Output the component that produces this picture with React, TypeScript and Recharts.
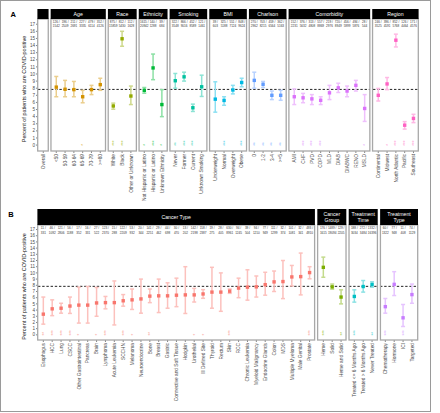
import { ComposedChart, Line, ErrorBar, XAxis, YAxis, ReferenceLine } from 'recharts'

const FONT = '"Liberation Sans", Arial, Helvetica, sans-serif'

// overall positive rate, the dashed line in every panel
const REF_RATE = 7.83
const Y_TICKS = [0, 1, 2, 3, 4, 5, 6, 7, 8, 9, 10, 11, 12, 13, 14, 15, 16, 17]
const Y_TITLE = 'Percent of patients who are COVID-positive'

// ---------- panel A ----------
const OVERALL_CATS = ['Overall']
const OVERALL_PCT = [7.83]
const OVERALL_LO = [7.5]
const OVERALL_HI = [8.17]
const OVERALL_POS = [1794]
const OVERALL_TOT = [22914]
const OVERALL_STARS = [0]

const AGE_CATS = ['<50', '50-59', '60-64', '65-69', '70-79', '>=80']
const AGE_PCT = [8.15, 7.85, 7.8, 6.8, 7.8, 8.5]
const AGE_LO = [6.8, 6.8, 6.8, 5.95, 7.1, 7.7]
const AGE_HI = [9.65, 9.1, 8.95, 7.7, 8.4, 9.4]
const AGE_POS = [126, 196, 211, 227, 479, 352]
const AGE_TOT = [1542, 2509, 2691, 3335, 6114, 4126]
const AGE_STARS = [0, 0, 0, 1, 0, 0]

const RACE_CATS = ['White', 'Black', 'Other or Unknown']
const RACE_PCT = [5.5, 14.95, 6.9]
const RACE_LO = [5.05, 13.9, 5.7]
const RACE_HI = [5.9, 16.0, 8.3]
const RACE_POS = [875, 812, 112]
const RACE_TOT = [15859, 5430, 1628]
const RACE_STARS = [3, 3, 0]

const ETH_CATS = ['Not Hispanic or Latino', 'Hispanic or Latino', 'Unknown Ethnicity']
const ETH_PCT = [7.7, 10.85, 5.7]
const ETH_LO = [7.3, 9.2, 4.0]
const ETH_HI = [8.1, 12.8, 7.8]
const ETH_POS = [1615, 140, 39]
const ETH_TOT = [20942, 1288, 684]
const ETH_STARS = [1, 3, 1]

const SMOKE_CATS = ['Never', 'Former', 'Current', 'Unknown Smoking']
const SMOKE_PCT = [9.05, 9.6, 5.25, 8.2]
const SMOKE_LO = [8.0, 9.0, 4.73, 6.84]
const SMOKE_HI = [10.07, 10.25, 5.76, 9.83]
const SMOKE_POS = [322, 866, 452, 121]
const SMOKE_TOT = [3548, 9016, 8589, 1461]
const SMOKE_STARS = [2, 3, 3, 0]

const BMI_CATS = ['Underweight', 'Normal', 'Overweight', 'Obese']
const BMI_PCT = [6.46, 6.28, 7.75, 8.8]
const BMI_LO = [4.63, 5.6, 7.2, 8.2]
const BMI_HI = [8.9, 6.8, 8.4, 9.4]
const BMI_POS = [39, 325, 551, 848]
const BMI_TOT = [603, 5188, 7124, 9624]
const BMI_STARS = [0, 3, 0, 3]

const CHARLSON_CATS = ['0', '1-2', '3-4', '>=5']
const CHARLSON_PCT = [9.1, 8.55, 7.0, 7.0]
const CHARLSON_LO = [8.0, 8.1, 6.4, 6.3]
const CHARLSON_HI = [10.25, 8.95, 7.6, 7.7]
const CHARLSON_POS = [270, 703, 459, 362]
const CHARLSON_TOT = [2962, 8215, 6564, 5163]
const CHARLSON_STARS = [2, 2, 2, 2]

const COMORB_CATS = ['AMI', 'CHF', 'PVD', 'COPD', 'MLD', 'DIAB', 'DIABWC', 'RENO', 'MSLD']
const COMORB_PCT = [6.8, 6.65, 6.5, 6.3, 7.35, 8.05, 7.6, 8.4, 5.15]
const COMORB_LO = [5.7, 5.96, 5.7, 5.7, 6.4, 7.4, 6.8, 7.6, 3.33]
const COMORB_HI = [7.9, 7.27, 7.1, 6.8, 8.4, 8.7, 8.3, 9.1, 7.1]
const COMORB_POS = [152, 376, 313, 557, 219, 720, 456, 494, 28]
const COMORB_TOT = [2231, 5632, 4808, 8869, 2976, 8949, 5999, 5876, 544]
const COMORB_STARS = [0, 3, 3, 3, 0, 0, 0, 0, 1]

const REGION_CATS = ['Continental', 'Midwest', 'North Atlantic', 'Pacific', 'Southeast']
const REGION_PCT = [7.0, 8.6, 14.75, 2.8, 3.75]
const REGION_LO = [6.2, 7.8, 13.8, 2.25, 3.16]
const REGION_HI = [7.97, 9.5, 15.6, 3.3, 4.33]
const REGION_POS = [246, 396, 852, 126, 171]
const REGION_TOT = [3525, 4591, 5768, 4464, 4576]
const REGION_STARS = [0, 1, 3, 3, 3]

// ---------- panel B ----------
const CTYPE_CATS = [
  'Esophagus', 'HCC', 'Lung', 'CSCC', 'Other Gastrointestinal', 'Pancreas', 'Brain', 'Lymphoma',
  'Acute Leukemia', 'SCCHN', 'Melanoma', 'Neuroendocrine', 'Bone', 'Breast', 'Gastric',
  'Connective and Soft Tissue', 'Hodgkin', 'Urothelial', 'Ill Defined Site', 'Thyroid', 'Rectum',
  'Skin', 'RCC', 'Chronic Leukemia', 'Myeloid Malignancy', 'Endocrine Glands', 'Colon', 'MDS',
  'Multiple Myeloma', 'Male Genital', 'Prostate',
]
const CTYPE_PCT = [3.34, 4.2, 4.3, 4.65, 4.8, 4.8, 5.15, 5.2, 5.2, 5.5, 5.65, 5.8, 6.25, 6.3, 6.3, 6.4, 6.45, 6.45, 6.6, 6.9, 6.9, 7.05, 7.55, 7.7, 7.75, 8.1, 8.55, 8.6, 9.35, 9.4, 10.05]
const CTYPE_LO = [1.73, 3.1, 3.5, 3.46, 1.9, 1.9, 3.0, 4.2, 1.6, 4.63, 4.1, 3.5, 5.2, 3.6, 4.3, 4.55, 3.45, 5.3, 5.9, 4.3, 3.8, 6.7, 6.0, 5.6, 6.1, 6.4, 7.0, 5.85, 7.9, 6.45, 9.05]
const CTYPE_HI = [6.1, 5.65, 5.1, 6.1, 7.7, 7.8, 7.65, 6.2, 8.7, 6.5, 7.4, 9.0, 7.4, 9.0, 8.4, 9.15, 11.0, 7.5, 7.3, 10.9, 10.0, 7.4, 9.15, 10.5, 9.5, 10.1, 10.3, 12.0, 11.2, 13.2, 11.0]
const CTYPE_POS = [11, 46, 121, 56, 17, 16, 27, 123, 15, 122, 53, 20, 141, 29, 44, 30, 13, 142, 158, 19, 28, 630, 94, 39, 94, 77, 111, 32, 101, 32, 493]
const CTYPE_TOT = [331, 1092, 2806, 1188, 352, 331, 522, 2370, 288, 2209, 932, 344, 2251, 462, 698, 470, 202, 2198, 2387, 275, 405, 8961, 1245, 504, 1210, 949, 1299, 374, 1081, 341, 4910]
const CTYPE_STARS = [2, 3, 3, 3, 1, 0, 1, 3, 0, 3, 1, 0, 2, 0, 0, 0, 0, 1, 1, 0, 0, 3, 0, 0, 0, 0, 0, 0, 0, 0, 3]

const CGROUP_CATS = ['Heme', 'Solid', 'Heme and Solid']
const CGROUP_PCT = [10.9, 7.75, 6.1]
const CGROUP_LO = [9.3, 7.38, 5.0]
const CGROUP_HI = [12.55, 8.2, 7.27]
const CGROUP_POS = [176, 1489, 129]
const CGROUP_TOT = [1615, 19094, 2205]
const CGROUP_STARS = [3, 0, 2]

const TTIME_CATS = ['Treated <= 6 Months Ago', 'Treated > 6 Months Ago', 'Never Treated']
const TTIME_PCT = [6.2, 7.8, 8.13]
const TTIME_LO = [5.28, 6.9, 7.7]
const TTIME_HI = [7.27, 8.77, 8.56]
const TTIME_POS = [188, 272, 1332]
const TTIME_TOT = [3034, 3484, 16396]
const TTIME_STARS = [3, 0, 2]

const TTYPE_CATS = ['Chemotherapy', 'Hormone', 'ICI', 'Targeted']
const TTYPE_PCT = [4.55, 8.15, 2.75, 6.5]
const TTYPE_LO = [3.5, 6.35, 1.35, 5.1]
const TTYPE_HI = [5.87, 10.2, 4.9, 8.2]
const TTYPE_POS = [60, 77, 11, 74]
const TTYPE_TOT = [1322, 948, 408, 1129]
const TTYPE_STARS = [3, 0, 3, 0]

interface PanelSpec {
  title: string[]
  color: string
  cats: string[]
  pct: number[]
  lo: number[]
  hi: number[]
  pos: number[]
  tot: number[]
  stars: number[]
}

const ROW_A: PanelSpec[] = [
  { title: [], color: '#F8766D', cats: OVERALL_CATS, pct: OVERALL_PCT, lo: OVERALL_LO, hi: OVERALL_HI, pos: OVERALL_POS, tot: OVERALL_TOT, stars: OVERALL_STARS },
  { title: ['Age'], color: '#D39200', cats: AGE_CATS, pct: AGE_PCT, lo: AGE_LO, hi: AGE_HI, pos: AGE_POS, tot: AGE_TOT, stars: AGE_STARS },
  { title: ['Race'], color: '#93AA00', cats: RACE_CATS, pct: RACE_PCT, lo: RACE_LO, hi: RACE_HI, pos: RACE_POS, tot: RACE_TOT, stars: RACE_STARS },
  { title: ['Ethnicity'], color: '#00BA38', cats: ETH_CATS, pct: ETH_PCT, lo: ETH_LO, hi: ETH_HI, pos: ETH_POS, tot: ETH_TOT, stars: ETH_STARS },
  { title: ['Smoking'], color: '#00C19F', cats: SMOKE_CATS, pct: SMOKE_PCT, lo: SMOKE_LO, hi: SMOKE_HI, pos: SMOKE_POS, tot: SMOKE_TOT, stars: SMOKE_STARS },
  { title: ['BMI'], color: '#00B9E3', cats: BMI_CATS, pct: BMI_PCT, lo: BMI_LO, hi: BMI_HI, pos: BMI_POS, tot: BMI_TOT, stars: BMI_STARS },
  { title: ['Charlson'], color: '#619CFF', cats: CHARLSON_CATS, pct: CHARLSON_PCT, lo: CHARLSON_LO, hi: CHARLSON_HI, pos: CHARLSON_POS, tot: CHARLSON_TOT, stars: CHARLSON_STARS },
  { title: ['Comorbidity'], color: '#DB72FB', cats: COMORB_CATS, pct: COMORB_PCT, lo: COMORB_LO, hi: COMORB_HI, pos: COMORB_POS, tot: COMORB_TOT, stars: COMORB_STARS },
  { title: ['Region'], color: '#FF61C3', cats: REGION_CATS, pct: REGION_PCT, lo: REGION_LO, hi: REGION_HI, pos: REGION_POS, tot: REGION_TOT, stars: REGION_STARS },
]

const ROW_B: PanelSpec[] = [
  { title: ['Cancer Type'], color: '#F8766D', cats: CTYPE_CATS, pct: CTYPE_PCT, lo: CTYPE_LO, hi: CTYPE_HI, pos: CTYPE_POS, tot: CTYPE_TOT, stars: CTYPE_STARS },
  { title: ['Cancer', 'Group'], color: '#7CAE00', cats: CGROUP_CATS, pct: CGROUP_PCT, lo: CGROUP_LO, hi: CGROUP_HI, pos: CGROUP_POS, tot: CGROUP_TOT, stars: CGROUP_STARS },
  { title: ['Treatment', 'Time'], color: '#00BFC4', cats: TTIME_CATS, pct: TTIME_PCT, lo: TTIME_LO, hi: TTIME_HI, pos: TTIME_POS, tot: TTIME_TOT, stars: TTIME_STARS },
  { title: ['Treatment', 'Type'], color: '#C77CFF', cats: TTYPE_CATS, pct: TTYPE_PCT, lo: TTYPE_LO, hi: TTYPE_HI, pos: TTYPE_POS, tot: TTYPE_TOT, stars: TTYPE_STARS },
]

interface RowLayout {
  tag: string
  tagX: number
  tagY: number
  left: number
  right: number
  gap: number
  stripTop: number
  stripH: number
  plotTop: number
  plotBottom: number
  labelH: number
  clipH: number
  countY: [number, number]
}

const LAYOUT_A: RowLayout = {
  tag: 'A', tagX: 10.5, tagY: 16.5, left: 37.7, right: 418.3, gap: 2.7,
  stripTop: 9, stripH: 10, plotTop: 19, plotBottom: 151, labelH: 60, clipH: 204, countY: [2.6, 7.4],
}
const LAYOUT_B: RowLayout = {
  tag: 'B', tagX: 8.3, tagY: 217, left: 37.7, right: 417.7, gap: 3,
  stripTop: 209, stripH: 16, plotTop: 225, plotBottom: 340, labelH: 68, clipH: 409, countY: [3.2, 7.9],
}

const Y_DOMAIN: [number, number] = [-0.83, 17.73]
const Y_AXIS_W = 16

function lighten(hex: string, k: number) {
  const n = parseInt(hex.slice(1), 16)
  const ch = [(n >> 16) & 255, (n >> 8) & 255, n & 255].map((c) => Math.round(c + (255 - c) * k))
  return `rgb(${ch[0]},${ch[1]},${ch[2]})`
}

function layoutRow(panels: PanelSpec[], lay: RowLayout) {
  const units = panels.reduce((a, p) => a + p.cats.length + 0.2, 0)
  const s = (lay.right - lay.left - lay.gap * (panels.length - 1)) / units
  let x = lay.left
  return panels.map((p) => {
    const w = (p.cats.length + 0.2) * s
    const out = { x, w, s }
    x += w + lay.gap
    return out
  })
}

function Panel({ spec, x, w, s, lay, first }: { spec: PanelSpec; x: number; w: number; s: number; lay: RowLayout; first: boolean }) {
  const data = spec.cats.map((name, i) => ({
    name,
    pct: spec.pct[i],
    err: [spec.pct[i] - spec.lo[i], spec.hi[i] - spec.pct[i]],
    base: 0,
    stars: spec.stars[i],
    pos: spec.pos[i],
    tot: spec.tot[i],
  }))
  const axisW = first ? Y_AXIS_W : 0
  const plotH = lay.plotBottom - lay.plotTop

  // eslint-disable-next-line @typescript-eslint/no-explicit-any
  const catTick = (props: any) => {
    const { x: tx, y: ty, payload } = props
    return (
      <text x={tx} y={ty} transform={`rotate(-90 ${tx} ${ty})`} textAnchor="end" dy="0.35em"
        fontSize={4.8} fill="#4d4d4d" fontFamily={FONT}>
        {payload.value}
      </text>
    )
  }

  // eslint-disable-next-line @typescript-eslint/no-explicit-any
  const pointDot = (props: any) => {
    const { cx, cy, index } = props
    if (cx == null || cy == null) return <g key={`p${index}`} />
    return <rect key={`p${index}`} x={cx - 1.7} y={cy - 1.7} width={3.4} height={3.4} fill={spec.color} />
  }

  // significance asterisks sit at y = 0; the n / N counts hang from the plot top (y = 0 in chart space)
  // eslint-disable-next-line @typescript-eslint/no-explicit-any
  const markDot = (props: any) => {
    const { cx, cy, payload, index } = props
    if (!payload || cx == null || cy == null) return <g key={`s${index}`} />
    const y0 = cy + 0.6
    return (
      <g key={`s${index}`}>
        <text x={cx} y={lay.countY[0]} textAnchor="middle" dominantBaseline="central" fontSize={3.1} fill="#333" fontFamily={FONT}>
          {payload.pos} /
        </text>
        <text x={cx} y={lay.countY[1]} textAnchor="middle" dominantBaseline="central" fontSize={3.1} fill="#333" fontFamily={FONT}>
          {payload.tot}
        </text>
        {payload.stars > 0 && (
          <text x={cx} y={y0} transform={`rotate(-90 ${cx} ${y0})`} textAnchor="start" dy="0.57em"
            fontSize={4.6} fill={lighten(spec.color, 0.25)} fontFamily={FONT}>
            {'*'.repeat(payload.stars)}
          </text>
        )}
      </g>
    )
  }

  return (
    <div style={{ position: 'absolute', left: x - axisW, top: lay.plotTop }}>
      <ComposedChart width={w + axisW} height={plotH + lay.labelH} data={data} margin={{ top: 0, right: 0, bottom: 0, left: 0 }}>
        <XAxis dataKey="name" type="category" scale="point" interval={0}
          padding={{ left: 0.6 * s, right: 0.6 * s }} height={lay.labelH} tickSize={2} tickMargin={1}
          axisLine={false} tickLine={{ stroke: '#333', strokeWidth: 0.6 }} tick={catTick} />
        <YAxis type="number" domain={Y_DOMAIN} allowDataOverflow ticks={Y_TICKS} interval={0}
          hide={!first} width={Y_AXIS_W} tickSize={2} tickMargin={1} axisLine={false}
          tickLine={{ stroke: '#333', strokeWidth: 0.6 }}
          tick={{ fontSize: 4.6, fill: '#4d4d4d', fontFamily: FONT }} />
        <ReferenceLine y={REF_RATE} stroke="#222" strokeWidth={1} strokeDasharray="2.4 1.8" />
        <Line dataKey="base" stroke="none" dot={markDot} activeDot={false} isAnimationActive={false} />
        <Line dataKey="pct" stroke="none" dot={pointDot} activeDot={false} isAnimationActive={false}>
          <ErrorBar dataKey="err" direction="y" width={2} stroke={lighten(spec.color, 0.55)} strokeWidth={1.5} />
        </Line>
      </ComposedChart>
    </div>
  )
}

function Row({ panels, lay }: { panels: PanelSpec[]; lay: RowLayout }) {
  const boxes = layoutRow(panels, lay)
  const plotH = lay.plotBottom - lay.plotTop
  const midY = (lay.plotTop + lay.plotBottom) / 2 + 4
  return (
    <div style={{ position: 'absolute', left: 0, top: 0, width: 440, height: lay.clipH, overflow: 'hidden' }}>
      {panels.map((p, i) => (
        <Panel key={i} spec={p} x={boxes[i].x} w={boxes[i].w} s={boxes[i].s} lay={lay} first={i === 0} />
      ))}
      <svg width={440} height={lay.clipH} style={{ position: 'absolute', left: 0, top: 0, pointerEvents: 'none' }}>
        <text x={lay.tagX} y={lay.tagY} fontSize={7.5} fontWeight="bold" fill="#000" fontFamily={FONT}>{lay.tag}</text>
        <text x={24} y={midY} transform={`rotate(-90 24 ${midY})`} textAnchor="middle" dominantBaseline="central"
          fontSize={5.5} fill="#222" fontFamily={FONT}>{Y_TITLE}</text>
        {panels.map((p, i) => {
          const b = boxes[i]
          const cx = b.x + b.w / 2
          const cy = lay.stripTop + lay.stripH / 2
          return (
            <g key={i}>
              <rect x={b.x} y={lay.plotTop} width={b.w} height={plotH} fill="none" stroke="#a8a8a8" strokeWidth={1.3} />
              <rect x={b.x - 0.3} y={lay.stripTop} width={b.w + 0.6} height={lay.stripH} fill="#000" />
              {p.title.map((t, j) => (
                <text key={j} x={cx} y={cy + (j - (p.title.length - 1) / 2) * 5.6} textAnchor="middle"
                  dominantBaseline="central" fontSize={5.2} fill="#fff" fontFamily={FONT}>{t}</text>
              ))}
            </g>
          )
        })}
      </svg>
    </div>
  )
}

export default function App() {
  return (
    <div style={{ position: 'absolute', left: 0, top: 0, width: 440, height: 413, background: '#fff', overflow: 'hidden' }}>
      <Row panels={ROW_A} lay={LAYOUT_A} />
      <Row panels={ROW_B} lay={LAYOUT_B} />
      <div style={{ position: 'absolute', left: 0, top: 0, width: 431, height: 412, boxSizing: 'border-box', border: '1.5px solid #9a9a9a', pointerEvents: 'none' }} />
    </div>
  )
}
